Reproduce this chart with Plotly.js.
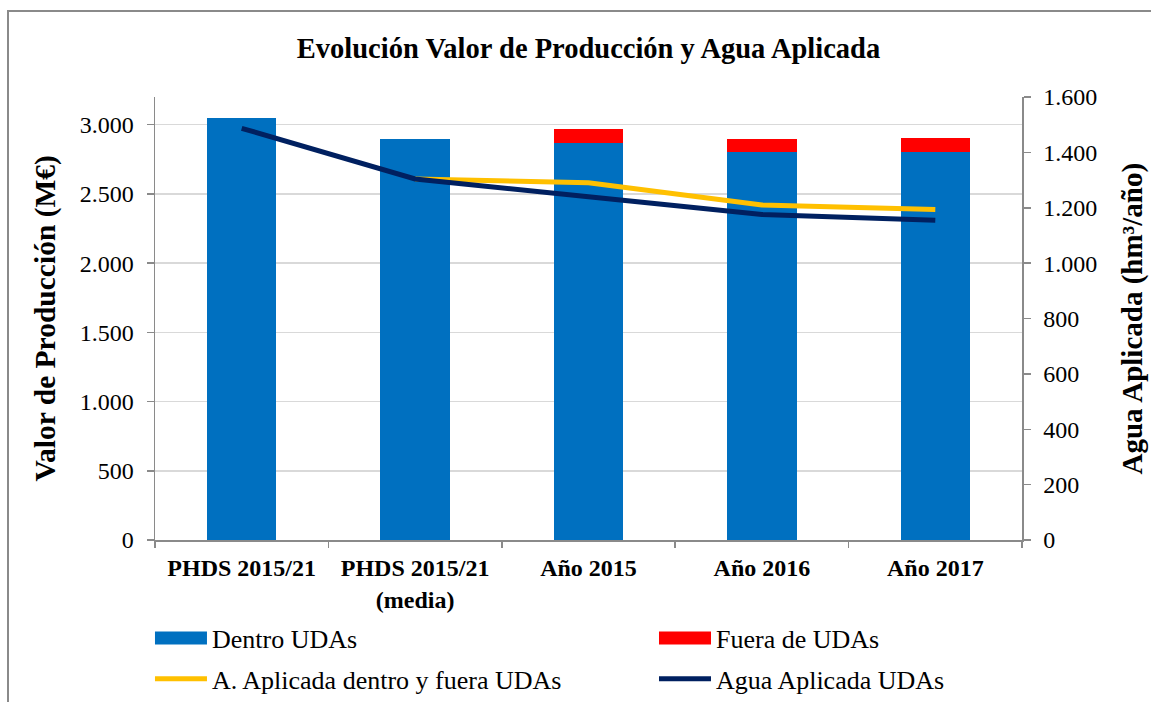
<!DOCTYPE html>
<html>
<head>
<meta charset="utf-8">
<script src="https://cdn.plot.ly/plotly-3.0.1.min.js"></script>
<style>
  html, body { margin: 0; padding: 0; background: #fff; }
  #wrap { position: relative; width: 1151px; height: 702px; overflow: hidden; }
  #chart { position: absolute; left: 0; top: 0; width: 1151px; height: 702px; }
  #frame { position: absolute; left: 7px; top: 10px; width: 1200px; height: 800px;
           border-left: 2px solid #8a8a8a; border-top: 2px solid #8a8a8a; pointer-events: none; }
</style>
</head>
<body>
<div id="wrap">
  <div id="chart"></div>
  <div id="frame"></div>
</div>
<script>
// ---- data ----
const categories = ["PHDS 2015/21", "PHDS 2015/21<br>(media)", "Año 2015", "Año 2016", "Año 2017"];
const dentroUDAs = [3046, 2899, 2870, 2803, 2800];
const fueraUDAs  = [0, 0, 99, 94, 101];
const aguaDentroFuera = [null, 1304, 1290, 1210, 1194];
const aguaUDAs        = [1487, 1304, 1240, 1176, 1155];
const titleText = "Evolución Valor de Producción y Agua Aplicada";
const yTitleLeft = "Valor de Producción (M€)";
const yTitleRight = "Agua Aplicada (hm³/año)";

const serif = "Liberation Serif, Times New Roman, serif";

const traces = [
  { type: "bar", name: "Dentro UDAs", x: categories, y: dentroUDAs,
    marker: { color: "#0070C0" }, width: 0.4, legend: "legend", hoverinfo: "y" },
  { type: "bar", name: "Fuera de UDAs", x: categories, y: fueraUDAs,
    marker: { color: "#FF0000" }, width: 0.4, legend: "legend2", hoverinfo: "y" },
  { type: "scatter", mode: "lines", name: "A. Aplicada dentro y fuera UDAs", x: categories, y: aguaDentroFuera,
    yaxis: "y2", line: { color: "#FFC000", width: 5 }, legend: "legend3" },
  { type: "scatter", mode: "lines", name: "Agua Aplicada UDAs", x: categories, y: aguaUDAs,
    yaxis: "y2", line: { color: "#002060", width: 5 }, legend: "legend4" }
];

const legendCommon = {
  orientation: "h", xanchor: "left", yanchor: "middle", xref: "container", yref: "container",
  font: { family: serif, size: 26, color: "#000" }, itemwidth: 52,
  bgcolor: "rgba(0,0,0,0)", itemclick: false, itemdoubleclick: false
};

const layout = {
  width: 1151, height: 702,
  margin: { l: 155, r: 129, t: 97, b: 162 },
  paper_bgcolor: "#fff", plot_bgcolor: "#fff",
  separators: ",.",
  barmode: "stack",
  font: { family: serif, color: "#000" },
  title: { text: "<b>" + titleText + "</b>",
           font: { family: serif, size: 28.5, color: "#000" },
           x: 0.5, xref: "paper", xanchor: "center", y: 0.932, yanchor: "middle", yref: "container" },
  xaxis: {
    type: "category", showgrid: false, showline: true, linecolor: "#8a8a8a", linewidth: 1.5,
    ticks: "outside", tickson: "boundaries", ticklen: 6, tickcolor: "#8a8a8a", tickwidth: 1.5,
    tickfont: { family: serif, size: 24, color: "#000", weight: "bold" }, ticklabelstandoff: 6
  },
  yaxis: {
    range: [0, 3200], dtick: 500, tickformat: ",", showgrid: true, gridcolor: "#d9d9d9", gridwidth: 1.5,
    showline: true, linecolor: "#8a8a8a", linewidth: 1.5, zeroline: false,
    ticks: "outside", ticklen: 7, tickcolor: "#8a8a8a", tickwidth: 1.5,
    tickfont: { family: serif, size: 24, color: "#000" }, ticklabelstandoff: 8
  },
  yaxis2: {
    overlaying: "y", side: "right", range: [0, 1600], dtick: 200, tickformat: ",",
    showgrid: false, showline: true, linecolor: "#8a8a8a", linewidth: 1.5, zeroline: false,
    ticks: "outside", ticklen: 7, tickcolor: "#8a8a8a", tickwidth: 1.5,
    tickfont: { family: serif, size: 24, color: "#000" }, ticklabelstandoff: 8
  },
  annotations: [
    { text: "<b>" + yTitleLeft + "</b>", xref: "paper", yref: "paper", x: 0, y: 0.5,
      xshift: -110, textangle: -90, showarrow: false, xanchor: "center", yanchor: "middle",
      font: { family: serif, size: 29.5, color: "#000" } },
    { text: "<b>" + yTitleRight + "</b>", xref: "paper", yref: "paper", x: 1, y: 0.5,
      xshift: 110, textangle: -90, showarrow: false, xanchor: "center", yanchor: "middle",
      font: { family: serif, size: 29, color: "#000" } }
  ],
  legend:  Object.assign({}, legendCommon, { x: 0.1303, y: 0.0912 }),
  legend2: Object.assign({}, legendCommon, { x: 0.5682, y: 0.0912 }),
  legend3: Object.assign({}, legendCommon, { x: 0.1303, y: 0.0328 }),
  legend4: Object.assign({}, legendCommon, { x: 0.5682, y: 0.0328 }),
  showlegend: true
};

Plotly.newPlot("chart", traces, layout, { displayModeBar: false, staticPlot: true }).then(function (gd) {
  // widen the bar legend swatches into rectangles like the original chart
  gd.querySelectorAll("g.legendpoints path").forEach(function (p) {
    const d = (p.getAttribute("d") || "").replace(/\s/g, "");
    if (d === "M6,6H-6V-6H6Z") p.setAttribute("d", "M26,6.5H-26V-6.5H26Z");
  });
});
</script>
</body>
</html>
